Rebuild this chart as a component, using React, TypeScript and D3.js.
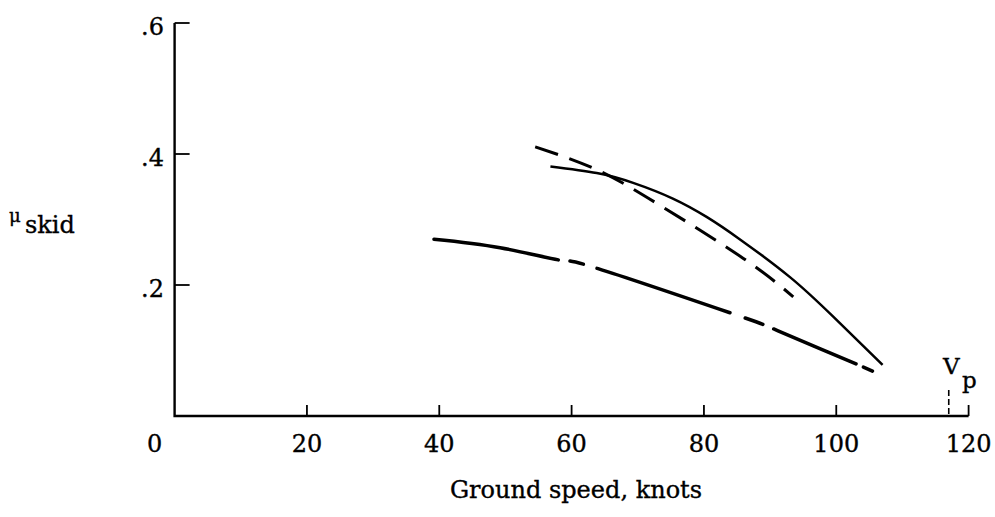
import React from "react";
import * as d3 from "d3";

const xTicks = [0, 20, 40, 60, 80, 100, 120];
const yTicks = [0.2, 0.4, 0.6];
const yTickLabels = [".2", ".4", ".6"];
const vp = 117;

// upper solid curve
const solidX = [56.8, 63.8, 69.3, 75.3, 80.4, 85.4, 93.0, 99.5, 107.0];
const solidY = [0.381, 0.371, 0.356, 0.332, 0.304, 0.270, 0.212, 0.152, 0.078];

// upper short-dashed curve
const dashX = [54.5, 63.8, 73.3, 85.9, 93.5];
const dashY = [0.411, 0.376, 0.322, 0.241, 0.182];

// lower long-dash curve
const lowX = [39.2, 49.2, 58.2, 64.0, 84.4, 91.2, 103.8, 106.3];
const lowY = [0.270, 0.257, 0.238, 0.225, 0.156, 0.130, 0.076, 0.063];

const W = 995;
const H = 517;

export default function App() {
  const x = d3.scaleLinear().domain([0, 120]).range([174.6, 968.6]);
  const y = d3.scaleLinear().domain([0, 0.6]).range([416, 23]);
  const line = d3
    .line<[number, number]>()
    .x((d) => x(d[0]))
    .y((d) => y(d[1]))
    .curve(d3.curveNatural);
  const zip = (a: number[], b: number[]) => a.map((v, i) => [v, b[i]] as [number, number]);
  const font = "'DejaVu Serif', serif";
  const fs = 24;
  const txt = { fontFamily: font, fill: "#000", stroke: "#000", strokeWidth: 0.35 };
  return (
    <svg
      width={W}
      height={H}
      style={{ position: "absolute", left: 0, top: 0, background: "#fff" }}
    >
      <rect width={W} height={H} fill="#fff" />
      {/* axes */}
      <path
        d={`M${x(0)},${y(0.6)} V${y(0)} H${x(120)}`}
        fill="none"
        stroke="#000"
        strokeWidth={2.4}
      />
      {xTicks.slice(1).map((t) => (
        <line key={"xt" + t} x1={x(t)} x2={x(t)} y1={y(0)} y2={y(0) - 11} stroke="#000" strokeWidth={1.8} />
      ))}
      {yTicks.map((t) => (
        <line key={"yt" + t} x1={x(0)} x2={x(0) + 15} y1={y(t)} y2={y(t)} stroke="#000" strokeWidth={1.8} />
      ))}
      {xTicks.map((t) => (
        <text key={"xl" + t} x={t === 0 ? x(t) - 20 : x(t)} y={452} textAnchor="middle" fontSize={fs} {...txt}>
          {t}
        </text>
      ))}
      {yTicks.map((t, i) => (
        <text key={"yl" + t} x={164} y={y(t) + 12} textAnchor="end" fontSize={fs} {...txt}>
          {yTickLabels[i]}
        </text>
      ))}
      {/* axis titles */}
      <text x={576} y={498} textAnchor="middle" fontSize={fs} {...txt}>
        Ground speed, knots
      </text>
      <text x={9} y={222} fontSize={18} {...txt}>
        μ
      </text>
      <text x={25} y={233} fontSize={fs} {...txt}>
        skid
      </text>
      {/* Vp marker */}
      <line x1={x(vp)} x2={x(vp)} y1={390} y2={y(0)} stroke="#000" strokeWidth={1.6} strokeDasharray="6 3" />
      <text x={943} y={374} fontSize={23} {...txt}>
        V
      </text>
      <text x={962} y={388} fontSize={23} {...txt}>
        p
      </text>
      {/* curves */}
      <path d={line(zip(solidX, solidY)) || ""} fill="none" stroke="#000" strokeWidth={2.5} />
      <path
        d={line(zip(dashX, dashY)) || ""}
        fill="none"
        stroke="#000"
        strokeWidth={3}
        strokeDasharray="24 12"
      />
      <path
        d={line(zip(lowX, lowY)) || ""}
        fill="none"
        stroke="#000"
        strokeWidth={3.5}
        strokeLinecap="round"
        strokeDasharray="126 12 14 14 140 16 19 12 89 8 10"
      />
    </svg>
  );
}
